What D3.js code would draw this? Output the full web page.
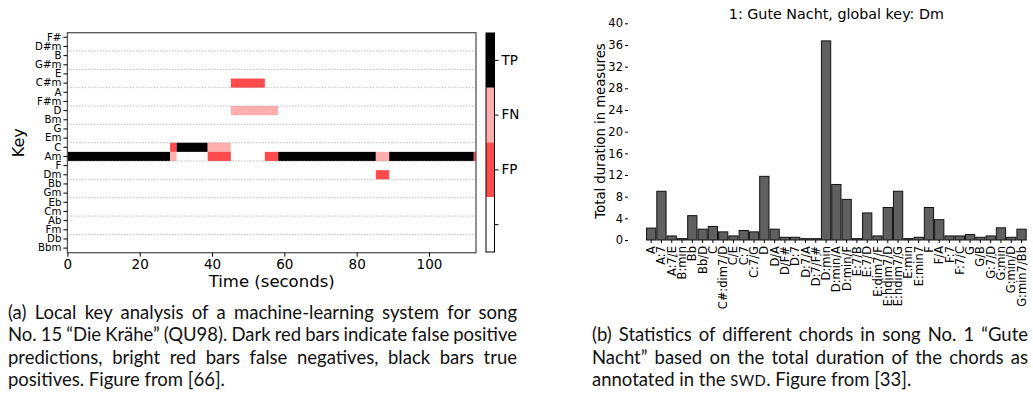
<!DOCTYPE html>
<html><head><meta charset="utf-8">
<script src="https://cdn.jsdelivr.net/npm/d3@7"></script>
<style>
body{margin:0;background:#fff;}
#wrap{position:relative;width:1033px;height:402px;overflow:hidden;background:#fff;}
svg{position:absolute;left:0;top:0;}
svg text{font-family:"DejaVu Sans",sans-serif;fill:#000;}
.cap{position:absolute;font-family:Lato,"Open Sans",sans-serif;font-size:18.5px;color:#111;}
.cap .ln{height:22.5px;line-height:22.5px;white-space:nowrap;}
.cap .ln.j{text-align:justify;text-align-last:justify;white-space:normal;overflow:hidden;word-spacing:-4px;}
.sc{font-size:0.8em;letter-spacing:0.03em;}
</style></head><body>
<div id="wrap"><svg id="chart" width="1033" height="402"></svg></div>
<script>
// ---------- Panel (a): local key analysis ----------
const keys = ["F#","D#m","B","G#m","E","C#m","A","F#m","D","Bm","G","Em","C","Am","F","Dm","Bb","Gm","Eb","Cm","Ab","Fm","Db","Bbm"];
const timeTicks = [0,20,40,60,80,100];
const timeMax = 113;
// segments (seconds)
const segKey   = ["Am","Am","C", "C", "C", "Am","C#m","D", "Am","Am","Am","Dm","Am","Am"];
const segStart = [0,   28.4,28.4,30.2,38.8,38.8,45.2, 45.2,54.6,58.3,85.3,85.3,89.0,112.4];
const segEnd   = [28.4,30.2,30.2,38.8,45.2,45.2,54.6, 58.3,58.3,85.3,89.0,89.0,112.4,113];
const segType  = ["TP","FN","FP","TP","FN","FP","FP", "FN","FP","TP","FN","FP","TP","FP"];
const classes = ["TP","FN","FP",""];
const classColors = ["#000000","#ffadad","#ff4b4b","#ffffff"];

// ---------- Panel (b): chord statistics ----------
const chords = ["A","A:7","A:7/E","B:min","Bb","Bb/D","C","C#:dim7/D","C/E","C:7","C:7/G","D","D/A","D/F#","D:7","D:7/A","D:7/F#","D:min","D:min/A","D:min/F","E:7/B","E:7/D","E:dim7/F","E:hdim7/D","E:hdim7/G","E:min","E:min7","F","F/A","F:7","F:7/C","G","G/B","G:7/D","G:min","G:min/D","G:min7/Bb"];
const durations = [2.2,9,0.75,0.25,4.5,2,2.5,1.5,0.75,1.75,1.5,11.75,2,0.5,0.5,0.25,0.25,36.75,10.25,7.5,0.25,5,0.75,6,9,0.25,0.5,6,3.75,0.75,0.75,1,0.5,0.75,2.25,0.5,2];
const durTicks = [0,4,8,12,16,20,24,28,32,36,40];
const chartTitle = "1: Gute Nacht, global key: Dm";

// ---------- Captions ----------
const capA = ["(a) Local key analysis of a machine-learning system for song",
              "No. 15 “Die Krähe” (QU98). Dark red bars indicate false positive",
              "predictions, bright red bars false negatives, black bars true",
              "positives. Figure from [66]."];
const capB = ["(b) Statistics of different chords in song No. 1 “Gute",
              "Nacht” based on the total duration of the chords as",
              "annotated in the <span class='sc'>SWD</span>. Figure from [33]."];

const svg = d3.select("#chart");

// ===== Panel (a) =====
const A = {left:67.4, right:476, top:32.7, bottom:252.7};
const x1 = d3.scaleLinear().domain([0,timeMax]).range([A.left,A.right]);
const y1 = d3.scaleBand().domain(keys).range([A.top,A.bottom]);
const color = d3.scaleOrdinal().domain(classes).range(classColors);

const gA = svg.append("g");
gA.selectAll("rect.seg").data(segKey.map((k,i)=>({k,s:segStart[i],e:segEnd[i],t:segType[i]})))
  .join("rect").attr("class","seg")
  .attr("x",d=>x1(d.s)).attr("width",d=>x1(d.e)-x1(d.s))
  .attr("y",d=>y1(d.k)).attr("height",y1.bandwidth())
  .attr("fill",d=>color(d.t));

// dotted grid lines every two rows
const gridKeys = keys.filter((k,i)=>i%2===1 && i<keys.length-1);
gA.selectAll("line.grid").data(gridKeys).join("line").attr("class","grid")
  .attr("x1",A.left).attr("x2",A.right)
  .attr("y1",d=>y1(d)+y1.bandwidth()).attr("y2",d=>y1(d)+y1.bandwidth())
  .attr("stroke","#9a9a9a").attr("stroke-width",1).attr("stroke-dasharray","1,2");

gA.append("rect").attr("x",A.left).attr("y",A.top).attr("width",A.right-A.left).attr("height",A.bottom-A.top)
  .attr("fill","none").attr("stroke","#555").attr("stroke-width",1.3);

const axA = gA.append("g").attr("transform",`translate(0,${A.bottom})`)
  .call(d3.axisBottom(x1).tickValues(timeTicks).tickSize(4).tickPadding(3));
axA.select(".domain").remove();
axA.selectAll("text").attr("font-size",13.5).style("font-family","DejaVu Sans");
const ayA = gA.append("g").attr("transform",`translate(${A.left},0)`)
  .call(d3.axisLeft(y1).tickSize(4).tickPadding(2));
ayA.select(".domain").remove();
ayA.selectAll("text").attr("font-size",10.2).style("font-family","DejaVu Sans");

gA.append("text").attr("x",(A.left+A.right)/2).attr("y",287).attr("text-anchor","middle")
  .attr("font-size",16.5).text("Time (seconds)");
gA.append("text").attr("transform",`translate(24,${(A.top+A.bottom)/2}) rotate(-90)`)
  .attr("text-anchor","middle").attr("font-size",16).text("Key");

// colorbar
const CB = {left:486, right:494.5, top:33, bottom:252};
const yc = d3.scaleBand().domain(classes).range([CB.top,CB.bottom]);
gA.selectAll("rect.cb").data(classes).join("rect").attr("class","cb")
  .attr("x",CB.left).attr("width",CB.right-CB.left)
  .attr("y",d=>yc(d)).attr("height",yc.bandwidth()).attr("fill",d=>color(d));
gA.append("rect").attr("x",CB.left).attr("y",CB.top).attr("width",CB.right-CB.left).attr("height",CB.bottom-CB.top)
  .attr("fill","none").attr("stroke","#000").attr("stroke-width",1);
const acb = gA.append("g").attr("transform",`translate(${CB.right},0)`)
  .call(d3.axisRight(yc).tickSize(4).tickPadding(3));
acb.select(".domain").remove();
acb.selectAll("text").attr("font-size",13.5).style("font-family","DejaVu Sans");

// ===== Panel (b) =====
const B = {left:645.5, right:1027.2, top:23.3, bottom:240};
const x2 = d3.scaleBand().domain(chords).range([B.left,B.right]).padding(0.1);
const y2 = d3.scaleLinear().domain([0,40]).range([B.bottom,B.top]);
const gB = svg.append("g");
gB.selectAll("rect.bar").data(chords.map((c,i)=>({c,v:durations[i]}))).join("rect").attr("class","bar")
  .attr("x",d=>x2(d.c)).attr("width",x2.bandwidth())
  .attr("y",d=>y2(d.v)).attr("height",d=>y2(0)-y2(d.v))
  .attr("fill","#606060").attr("stroke","#111").attr("stroke-width",1);

const ayB = gB.append("g").attr("transform",`translate(628,0)`)
  .call(d3.axisLeft(y2).tickValues(durTicks).tickSize(3).tickPadding(2));
ayB.select(".domain").remove();
ayB.selectAll("text").attr("font-size",11.5).style("font-family","DejaVu Sans");

const axB = gB.append("g").attr("transform",`translate(0,${B.bottom})`)
  .call(d3.axisBottom(x2).tickSize(3).tickPadding(2));
axB.select(".domain").remove();
axB.selectAll("text").attr("font-size",11.5).style("font-family","DejaVu Sans")
  .attr("transform","rotate(-90)").attr("text-anchor","end")
  .attr("x",-6).attr("y",0).attr("dy","0.35em");

gB.append("text").attr("x",(B.left+B.right)/2).attr("y",19).attr("text-anchor","middle")
  .attr("font-size",14.3).text(chartTitle);
gB.append("text").attr("transform",`translate(605,131) rotate(-90)`)
  .attr("text-anchor","middle").attr("font-size",13.2).text("Total duration in measures");

// ===== Captions =====
function caption(lines, left, width, top){
  const d = d3.select("#wrap").append("div").attr("class","cap")
    .style("left",left+"px").style("top",top+"px").style("width",width+"px");
  d.selectAll("div").data(lines).join("div")
    .attr("class",(t,i)=>"ln"+(i<lines.length-1?" j":""))
    .html(t=>t);
}
caption(capA, 8, 509, 300.5);
caption(capB, 592, 436, 323);
</script>
</body></html>
